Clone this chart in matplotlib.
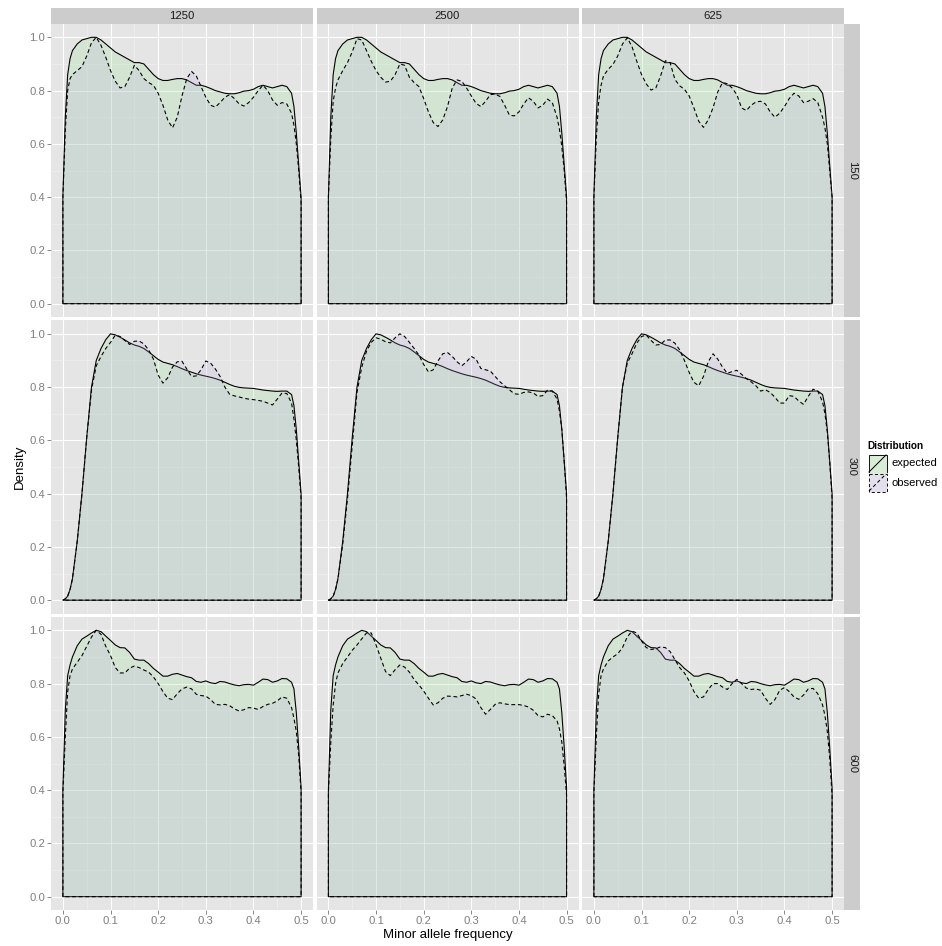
import numpy as np
import matplotlib
matplotlib.use("Agg")
import matplotlib.pyplot as plt
from matplotlib.patches import Polygon, Rectangle
from matplotlib.lines import Line2D

plt.rcParams['font.family'] = ['Liberation Sans', 'DejaVu Sans']

# ---------------------------------------------------------------- data
# frequency grid on which the scaled densities are sampled
FREQ = [0.0, 0.005, 0.01, 0.015, 0.02,
        0.03, 0.04, 0.05, 0.06, 0.07, 0.08, 0.09, 0.10, 0.11, 0.12,
        0.13, 0.14, 0.15, 0.16, 0.17, 0.18, 0.19, 0.20, 0.21, 0.22,
        0.23, 0.24, 0.25, 0.26, 0.27, 0.28, 0.29, 0.30, 0.31, 0.32,
        0.33, 0.34, 0.35, 0.36, 0.37, 0.38, 0.39, 0.40, 0.41, 0.42,
        0.43, 0.44, 0.45, 0.46, 0.47, 0.48,
        0.485, 0.49, 0.495, 0.5]

COLUMNS = ["1250", "2500", "625"]
ROWS = ["150", "300", "600"]
GROUPS = ["expected", "observed"]

# expected densities (one per row)
EXP_150 = [0.40, 0.70, 0.86, 0.92, 0.95,
           0.975, 0.99, 0.995, 1.0, 1.0, 0.99, 0.975, 0.96, 0.945, 0.935,
           0.925, 0.915, 0.905, 0.905, 0.90, 0.88, 0.86, 0.845, 0.838, 0.838,
           0.842, 0.845, 0.845, 0.84, 0.83, 0.82, 0.82, 0.815, 0.808, 0.80,
           0.795, 0.79, 0.788, 0.788, 0.792, 0.798, 0.80, 0.805, 0.815, 0.82,
           0.815, 0.81, 0.815, 0.82, 0.815, 0.79,
           0.74, 0.64, 0.52, 0.40]
EXP_300 = [0.0, 0.005, 0.015, 0.04, 0.08,
           0.22, 0.40, 0.61, 0.80, 0.90, 0.945, 0.978, 1.0, 0.996, 0.987,
           0.977, 0.966, 0.958, 0.953, 0.945, 0.932, 0.918, 0.904, 0.894, 0.889,
           0.884, 0.877, 0.869, 0.862, 0.856, 0.85, 0.845, 0.841, 0.837, 0.832,
           0.826, 0.818, 0.81, 0.803, 0.799, 0.797, 0.796, 0.795, 0.792, 0.789,
           0.787, 0.785, 0.784, 0.785, 0.785, 0.772,
           0.73, 0.64, 0.52, 0.40]
EXP_600 = [0.40, 0.70, 0.83, 0.87, 0.90,
           0.942, 0.967, 0.978, 0.99, 1.0, 0.995, 0.978, 0.962, 0.945, 0.935,
           0.934, 0.917, 0.892, 0.888, 0.888, 0.875, 0.857, 0.843, 0.828, 0.828,
           0.835, 0.838, 0.832, 0.826, 0.822, 0.808, 0.805, 0.81, 0.803, 0.80,
           0.808, 0.806, 0.80, 0.795, 0.792, 0.796, 0.797, 0.794, 0.805, 0.817,
           0.815, 0.805, 0.81, 0.819, 0.818, 0.805,
           0.78, 0.69, 0.56, 0.41]

# observed densities (one per panel)
OBS_1250_150 = [0.40, 0.65, 0.80, 0.845, 0.86,
                0.875, 0.89, 0.93, 0.98, 1.0, 0.97, 0.925, 0.875, 0.835, 0.81,
                0.815, 0.85, 0.895, 0.875, 0.845, 0.83, 0.82, 0.79, 0.745, 0.69,
                0.66, 0.70, 0.78, 0.845, 0.872, 0.855, 0.815, 0.775, 0.745, 0.738,
                0.755, 0.775, 0.785, 0.77, 0.75, 0.742, 0.755, 0.775, 0.80, 0.82,
                0.80, 0.765, 0.745, 0.755, 0.75, 0.715,
                0.67, 0.60, 0.50, 0.38]
OBS_2500_150 = [0.40, 0.62, 0.76, 0.81, 0.84,
                0.875, 0.905, 0.945, 0.995, 0.99, 0.95, 0.91, 0.875, 0.85, 0.832,
                0.835, 0.86, 0.90, 0.895, 0.85, 0.83, 0.815, 0.77, 0.72, 0.68,
                0.665, 0.69, 0.74, 0.81, 0.84, 0.835, 0.81, 0.78, 0.752, 0.74,
                0.76, 0.785, 0.787, 0.778, 0.745, 0.708, 0.705, 0.72, 0.75, 0.773,
                0.76, 0.735, 0.745, 0.768, 0.755, 0.70,
                0.655, 0.59, 0.50, 0.38]
OBS_625_150 = [0.40, 0.62, 0.76, 0.82, 0.855,
               0.88, 0.898, 0.93, 0.975, 0.998, 0.965, 0.91, 0.86, 0.825, 0.802,
               0.81, 0.855, 0.912, 0.905, 0.842, 0.818, 0.805, 0.78, 0.735, 0.685,
               0.662, 0.69, 0.735, 0.795, 0.83, 0.826, 0.81, 0.785, 0.735, 0.725,
               0.745, 0.757, 0.76, 0.75, 0.72, 0.70, 0.715, 0.74, 0.77, 0.79,
               0.78, 0.755, 0.76, 0.77, 0.755, 0.70,
               0.66, 0.60, 0.50, 0.40]
OBS_1250_300 = [0.0, 0.005, 0.015, 0.04, 0.08,
                0.22, 0.40, 0.61, 0.79, 0.88, 0.915, 0.945, 0.968, 0.995, 0.99,
                0.975, 0.96, 0.972, 0.973, 0.962, 0.94, 0.905, 0.845, 0.815, 0.835,
                0.875, 0.895, 0.897, 0.868, 0.84, 0.842, 0.865, 0.898, 0.89, 0.868,
                0.84, 0.80, 0.773, 0.767, 0.763, 0.758, 0.755, 0.753, 0.75, 0.747,
                0.74, 0.733, 0.755, 0.778, 0.776, 0.74,
                0.68, 0.60, 0.50, 0.38]
OBS_2500_300 = [0.0, 0.005, 0.015, 0.04, 0.08,
                0.21, 0.38, 0.58, 0.78, 0.875, 0.935, 0.968, 0.985, 0.98, 0.97,
                0.966, 0.985, 1.0, 0.99, 0.968, 0.945, 0.92, 0.885, 0.857, 0.865,
                0.898, 0.925, 0.93, 0.915, 0.895, 0.88, 0.895, 0.915, 0.905, 0.87,
                0.865, 0.86, 0.84, 0.82, 0.805, 0.79, 0.775, 0.773, 0.78, 0.782,
                0.778, 0.765, 0.768, 0.788, 0.785, 0.755,
                0.71, 0.64, 0.52, 0.38]
OBS_625_300 = [0.0, 0.005, 0.015, 0.04, 0.08,
               0.22, 0.40, 0.61, 0.80, 0.89, 0.925, 0.965, 0.99, 0.995, 0.975,
               0.958, 0.96, 0.977, 0.977, 0.965, 0.94, 0.90, 0.855, 0.818, 0.805,
               0.84, 0.895, 0.925, 0.905, 0.875, 0.852, 0.858, 0.863, 0.848, 0.832,
               0.82, 0.805, 0.785, 0.79, 0.78, 0.762, 0.74, 0.74, 0.768, 0.765,
               0.748, 0.735, 0.765, 0.792, 0.785, 0.745,
               0.70, 0.63, 0.52, 0.38]
OBS_1250_600 = [0.39, 0.60, 0.77, 0.83, 0.855,
                0.88, 0.905, 0.94, 0.975, 1.0, 0.985, 0.94, 0.905, 0.86, 0.84,
                0.84, 0.858, 0.866, 0.86, 0.851, 0.843, 0.825, 0.80, 0.77, 0.745,
                0.74, 0.762, 0.78, 0.787, 0.78, 0.76, 0.755, 0.753, 0.74, 0.722,
                0.72, 0.722, 0.717, 0.705, 0.697, 0.702, 0.71, 0.708, 0.703, 0.714,
                0.722, 0.726, 0.735, 0.75, 0.745, 0.71,
                0.67, 0.62, 0.53, 0.39]
OBS_2500_600 = [0.39, 0.58, 0.72, 0.80, 0.84,
                0.875, 0.90, 0.925, 0.945, 0.968, 0.99, 0.99, 0.945, 0.895, 0.845,
                0.83, 0.852, 0.87, 0.862, 0.843, 0.815, 0.795, 0.772, 0.745, 0.72,
                0.728, 0.745, 0.753, 0.752, 0.75, 0.755, 0.76, 0.755, 0.742, 0.71,
                0.685, 0.703, 0.722, 0.728, 0.724, 0.721, 0.721, 0.721, 0.718, 0.712,
                0.70, 0.68, 0.675, 0.685, 0.68, 0.66,
                0.63, 0.58, 0.49, 0.38]
OBS_625_600 = [0.39, 0.60, 0.76, 0.83, 0.855,
               0.885, 0.90, 0.912, 0.935, 0.975, 0.997, 0.99, 0.96, 0.935, 0.928,
               0.931, 0.938, 0.935, 0.92, 0.89, 0.86, 0.84, 0.81, 0.77, 0.745,
               0.75, 0.778, 0.80, 0.80, 0.787, 0.778, 0.80, 0.816, 0.80, 0.783,
               0.778, 0.78, 0.775, 0.745, 0.722, 0.74, 0.775, 0.785, 0.77, 0.75,
               0.741, 0.757, 0.78, 0.782, 0.762, 0.72,
               0.68, 0.62, 0.52, 0.38]

X_TICKS = [0.0, 0.1, 0.2, 0.3, 0.4, 0.5]
X_TICK_LABELS = ["0.0", "0.1", "0.2", "0.3", "0.4", "0.5"]
Y_TICKS = [0.0, 0.2, 0.4, 0.6, 0.8, 1.0]
Y_TICK_LABELS = ["0.0", "0.2", "0.4", "0.6", "0.8", "1.0"]

expected_by_row = {"150": EXP_150, "300": EXP_300, "600": EXP_600}
observed_by_panel = {
    ("150", "1250"): OBS_1250_150, ("150", "2500"): OBS_2500_150, ("150", "625"): OBS_625_150,
    ("300", "1250"): OBS_1250_300, ("300", "2500"): OBS_2500_300, ("300", "625"): OBS_625_300,
    ("600", "1250"): OBS_1250_600, ("600", "2500"): OBS_2500_600, ("600", "625"): OBS_625_600,
}

# ---------------------------------------------------------------- style
FILL = {"expected": "#90e086", "observed": "#b8a9e0"}
LINESTYLE = {"expected": "solid", "observed": (0, (3.5, 2.5))}
FILL_ALPHA = 0.2
PANEL_BG = "#e5e5e5"
STRIP_BG = "#cccccc"
TICK_GREY = "#7f7f7f"
TEXT_DARK = "#1a1a1a"
TICK_SIZE = 11.2
STRIP_SIZE = 11.2
TITLE_SIZE = 13.2

W, H, DPI = 942, 946, 72
fig = plt.figure(figsize=(W / DPI, H / DPI), dpi=DPI)
fig.patch.set_facecolor("white")


def fx(px):
    return px / W


def fy(py):
    return 1 - py / H


col_left = [51, 316.5, 582]
panel_w = 262
row_top = [24, 320.5, 617]
panel_h = 293
strip_size = 16

freq = np.asarray(FREQ)


def density_polygon(ax, values, group):
    vals = np.asarray(values)
    xy = np.column_stack([np.r_[freq[0], freq, freq[-1]],
                          np.r_[0.0, vals, 0.0]])
    rgb = matplotlib.colors.to_rgb(FILL[group])
    ax.add_patch(Polygon(xy, closed=True, facecolor=(*rgb, FILL_ALPHA),
                         edgecolor="black", linewidth=1.1,
                         linestyle=LINESTYLE[group], joinstyle="round",
                         zorder=3))


for i, row in enumerate(ROWS):
    for j, col in enumerate(COLUMNS):
        l, t = col_left[j], row_top[i]
        ax = fig.add_axes([fx(l), fy(t + panel_h), panel_w / W, panel_h / H])
        ax.set_facecolor(PANEL_BG)
        ax.set_xlim(-0.025, 0.525)
        ax.set_ylim(-0.05, 1.05)
        for s in ax.spines.values():
            s.set_visible(False)
        ax.set_xticks(X_TICKS)
        ax.set_yticks(Y_TICKS)
        ax.set_xticks([0.05, 0.15, 0.25, 0.35, 0.45], minor=True)
        ax.set_yticks([0.1, 0.3, 0.5, 0.7, 0.9], minor=True)
        ax.grid(which="minor", color="#f2f2f2", linewidth=0.55)
        ax.grid(which="major", color="white", linewidth=1.1)
        ax.set_axisbelow(True)
        ax.tick_params(which="minor", length=0)
        ax.tick_params(which="major", length=4, width=0.9, color=TICK_GREY,
                       labelcolor=TICK_GREY, labelsize=TICK_SIZE, pad=2)
        if i == len(ROWS) - 1:
            ax.set_xticklabels(X_TICK_LABELS)
        else:
            ax.tick_params(axis="x", length=0, labelbottom=False)
        if j == 0:
            ax.set_yticklabels(Y_TICK_LABELS)
        else:
            ax.tick_params(axis="y", length=0, labelleft=False)

        density_polygon(ax, expected_by_row[row], "expected")
        density_polygon(ax, observed_by_panel[(row, col)], "observed")

        # facet strips
        if i == 0:
            sax = fig.add_axes([fx(l), fy(t), panel_w / W, strip_size / H])
            sax.set_facecolor(STRIP_BG)
            sax.set_xticks([]); sax.set_yticks([])
            for s in sax.spines.values():
                s.set_visible(False)
            sax.text(0.5, 0.5, col, ha="center", va="center",
                     fontsize=STRIP_SIZE, color=TEXT_DARK,
                     transform=sax.transAxes)
        if j == len(COLUMNS) - 1:
            rax = fig.add_axes([fx(l + panel_w), fy(t + panel_h),
                                strip_size / W, panel_h / H])
            rax.set_facecolor(STRIP_BG)
            rax.set_xticks([]); rax.set_yticks([])
            for s in rax.spines.values():
                s.set_visible(False)
            rax.text(0.5, 0.5, row, ha="center", va="center",
                     fontsize=STRIP_SIZE, rotation=-90, color=TEXT_DARK,
                     transform=rax.transAxes)

# axis titles
fig.text(fx(447.5), fy(935), "Minor allele frequency", ha="center",
         va="center", fontsize=TITLE_SIZE, color="black")
fig.text(fx(20), fy(467), "Density", ha="center", va="center",
         rotation=90, fontsize=TITLE_SIZE, color="black")

# legend
lax = fig.add_axes([0, 0, 1, 1], facecolor="none")
lax.set_xlim(0, W)
lax.set_ylim(H, 0)
lax.axis("off")
lax.text(867, 446, "Distribution", fontsize=10, fontweight="bold",
         ha="left", va="center", color="black")
key_x, key_w, key_h = 868, 19, 19
for k, group in enumerate(GROUPS):
    ky = 454 + k * key_h
    lax.add_patch(Rectangle((key_x, ky), key_w, key_h, facecolor="#f2f2f2",
                            edgecolor="white", linewidth=0.8))
    rgb = matplotlib.colors.to_rgb(FILL[group])
    lax.add_patch(Rectangle((key_x + 0.5, ky + 0.5), key_w - 1, key_h - 1,
                            facecolor=(*rgb, 0.25), edgecolor="black",
                            linewidth=0.9, linestyle=LINESTYLE[group]))
    lax.add_line(Line2D([key_x + 1, key_x + key_w - 1],
                        [ky + key_h - 1, ky + 1], color="black",
                        linewidth=1.0, linestyle=LINESTYLE[group]))
    lax.text(key_x + key_w + 5, ky + key_h / 2, group, fontsize=11.2,
             ha="left", va="center", color="black")

fig.savefig("out.png", dpi=DPI)
